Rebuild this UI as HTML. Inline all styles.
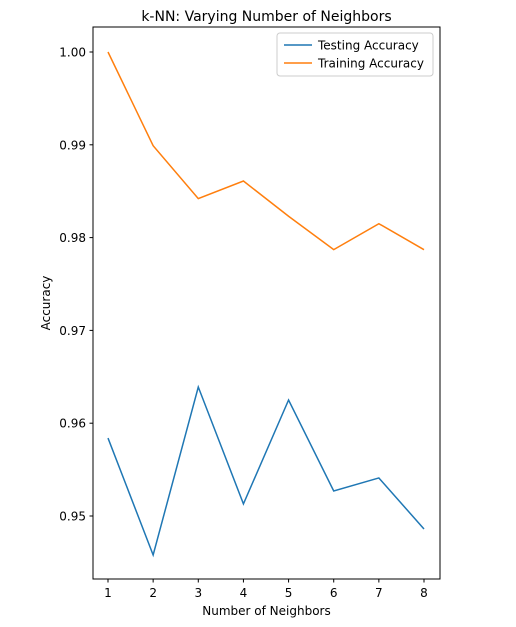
<!DOCTYPE html>
<html><head><meta charset="utf-8"><style>
body{margin:0;background:#fff;}
svg text{font-family:"DejaVu Sans","Liberation Sans",sans-serif;fill:#000;}
</style></head><body>
<svg id="chart" width="516" height="622" xmlns="http://www.w3.org/2000/svg">
<rect width="516" height="622" fill="#fff"/>
<text x="266.5" y="21" text-anchor="middle" font-size="14">k-NN: Varying Number of Neighbors</text>
<g id="plot"></g>
<rect x="93" y="27" width="347" height="552" fill="none" stroke="#000" stroke-width="1"/>
<text x="266.5" y="615" text-anchor="middle" font-size="12">Number of Neighbors</text>
<text transform="translate(50,303) rotate(-90)" text-anchor="middle" font-size="12">Accuracy</text>
<g>
<rect x="277" y="33" width="156" height="43" rx="3" fill="#fff" stroke="#ccc"/>
<line x1="284" y1="45" x2="312" y2="45" stroke="#1f77b4" stroke-width="1.5"/>
<text x="318" y="49.5" font-size="12">Testing Accuracy</text>
<line x1="284" y1="63" x2="312" y2="63" stroke="#ff7f0e" stroke-width="1.5"/>
<text x="318" y="67.5" font-size="12">Training Accuracy</text>
</g>
</svg>
<script>
const neighbors=[1,2,3,4,5,6,7,8];
const testAcc=[0.9584,0.9458,0.9639,0.9513,0.9625,0.9527,0.9541,0.9486];
const trainAcc=[1.0,0.9899,0.9842,0.9861,0.9823,0.9787,0.9815,0.9787];
const yTicks=[0.95,0.96,0.97,0.98,0.99,1.00];
const yTickLabels=["0.95","0.96","0.97","0.98","0.99","1.00"];
const NS="http://www.w3.org/2000/svg";
function xs(v){return 108+(v-1)*(424-108)/7;}
function ys(v){return 516-(v-0.95)*(516-52)/0.05;}
const g=document.getElementById('plot');
function mk(t,a){const e=document.createElementNS(NS,t);for(const k in a)e.setAttribute(k,a[k]);return e;}
neighbors.forEach(n=>{
  const t=mk('line',{x1:xs(n),x2:xs(n),y1:579,y2:582.5,stroke:'#000'});
  
  
  g.appendChild(t);
  const l=mk('text',{x:xs(n),y:597,'text-anchor':'middle','font-size':'12'});
  
  
  l.textContent=n;g.appendChild(l);
});
yTicks.forEach((v,i)=>{
  const t=mk('line',{x1:89.5,x2:93,y1:ys(v),y2:ys(v),stroke:'#000'});
  
  
  g.appendChild(t);
  const l=mk('text',{x:86,y:ys(v)+4.5,'text-anchor':'end','font-size':'12'});
  
  
  l.textContent=yTickLabels[i];g.appendChild(l);
});
function series(vals,color,name){
  const p=mk('polyline',{points:vals.map((v,i)=>xs(neighbors[i])+','+ys(v)).join(' '),fill:'none',stroke:color,'stroke-width':1.5});
  
  
  g.appendChild(p);
}
series(testAcc,'#1f77b4','testing-accuracy-line');
series(trainAcc,'#ff7f0e','training-accuracy-line');
</script>
</body></html>
